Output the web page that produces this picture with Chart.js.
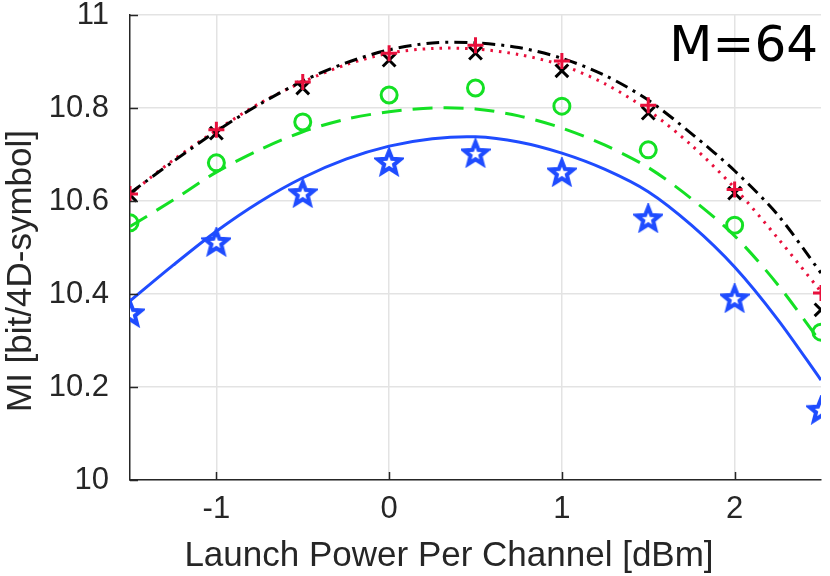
<!DOCTYPE html>
<html>
<head>
<meta charset="utf-8">
<script src="https://cdn.jsdelivr.net/npm/chart.js@4/dist/chart.umd.min.js"></script>
<style>
  body { margin: 0; background: #fff; }
  #wrap { width: 830px; height: 576px; }
</style>
</head>
<body>
<div id="wrap"><canvas id="chart" width="830" height="576"></canvas></div>
<script>
// measured points
const powerDbm = [-1.5, -1, -0.5, 0, 0.5, 1, 1.5, 2, 2.5];
const plusMI   = [10.615, 10.753, 10.856, 10.918, 10.935, 10.901, 10.806, 10.625, 10.402];
const crossMI  = [10.613, 10.746, 10.843, 10.903, 10.918, 10.880, 10.789, 10.617, 10.366];
const circleMI = [10.553, 10.682, 10.770, 10.828, 10.843, 10.804, 10.710, 10.548, 10.318];
const starMI   = [10.359, 10.512, 10.617, 10.684, 10.703, 10.662, 10.563, 10.391, 10.151];

// fitted curves
const fitPower  = [-1.5, -1.25, -1, -0.75, -0.5, -0.25, 0, 0.25, 0.5, 0.75, 1, 1.25, 1.5, 1.75, 2, 2.25, 2.5];
const fitPlus   = [10.615, 10.688, 10.752, 10.810, 10.856, 10.893, 10.918, 10.928, 10.927, 10.915, 10.892, 10.852, 10.795, 10.720, 10.628, 10.520, 10.405];
const fitCross  = [10.617, 10.685, 10.750, 10.808, 10.858, 10.897, 10.925, 10.940, 10.940, 10.930, 10.907, 10.870, 10.817, 10.745, 10.665, 10.570, 10.445];
const fitCircle = [10.545, 10.602, 10.662, 10.710, 10.749, 10.776, 10.792, 10.800, 10.798, 10.783, 10.757, 10.720, 10.672, 10.605, 10.525, 10.420, 10.295];
const fitStar   = [10.385, 10.462, 10.535, 10.598, 10.650, 10.690, 10.718, 10.734, 10.738, 10.727, 10.703, 10.668, 10.620, 10.548, 10.458, 10.345, 10.215];

const xTicks = [-1, 0, 1, 2];
const yTicks = [10, 10.2, 10.4, 10.6, 10.8, 11];
const xTitle = 'Launch Power Per Channel [dBm]';
const yTitle = 'MI [bit/4D-symbol]';
const annotationText = 'M=64';

const RED = '#e8103c', BLACK = '#000000', GREEN = '#14e024', BLUE = '#1f4cff';
const TEXT = '#262626';
const FONT = '"Liberation Sans", Arial, sans-serif';

function pts(xs, ys) {
  return xs.map((x, i) => ({ x: x, y: ys[i] }));
}

// 5-point star marker, thick outline with a small white centre
function makeStar(color) {
  const c = document.createElement('canvas');
  c.width = 30; c.height = 30;
  const g = c.getContext('2d');
  g.beginPath();
  for (let i = 0; i < 10; i++) {
    const r = i % 2 === 0 ? 12 : 5.2;
    const a = -Math.PI / 2 + i * Math.PI / 5;
    const px = 15 + r * Math.cos(a), py = 16 + r * Math.sin(a);
    if (i === 0) g.moveTo(px, py); else g.lineTo(px, py);
  }
  g.closePath();
  g.fillStyle = '#ffffff';
  g.fill();
  g.lineWidth = 4;
  g.lineJoin = 'miter';
  g.strokeStyle = color;
  g.stroke();
  return c;
}
const starImg = makeStar(BLUE);

function curve(ys, color, dash) {
  return {
    data: pts(fitPower, ys),
    showLine: true,
    borderColor: color,
    borderWidth: 3,
    borderDash: dash,
    pointRadius: 0,
    tension: 0.3,
    fill: false,
    order: 2
  };
}
function marks(ys, color, style, radius) {
  return {
    data: pts(powerDbm, ys),
    showLine: false,
    pointStyle: style,
    pointRadius: radius,
    pointBorderWidth: 3,
    pointBorderColor: color,
    pointBackgroundColor: 'rgba(0,0,0,0)',
    borderColor: color,
    order: 1
  };
}

// inward ticks, axis titles and the M=64 label
const extras = {
  id: 'extras',
  afterDraw(chart) {
    const ctx = chart.ctx, a = chart.chartArea;
    const xs = chart.scales.x, ys = chart.scales.y;
    ctx.save();
    ctx.strokeStyle = TEXT;
    ctx.lineWidth = 1.5;
    ctx.beginPath();
    xTicks.forEach(v => {
      const px = Math.round(xs.getPixelForValue(v)) + 0.5;
      ctx.moveTo(px, a.bottom); ctx.lineTo(px, a.bottom - 8);
    });
    yTicks.forEach(v => {
      const py = Math.round(ys.getPixelForValue(v)) + 0.5;
      ctx.moveTo(a.left, py); ctx.lineTo(a.left + 8, py);
    });
    ctx.stroke();

    ctx.fillStyle = TEXT;
    ctx.font = '35px ' + FONT;
    ctx.textAlign = 'center';
    ctx.textBaseline = 'middle';
    ctx.fillText(xTitle, 449, 556);
    ctx.save();
    ctx.translate(21, 271);
    ctx.rotate(-Math.PI / 2);
    ctx.fillText(yTitle, 0, 0);
    ctx.restore();

    ctx.fillStyle = '#000';
    ctx.font = '50px "DejaVu Sans"';
    ctx.textAlign = 'right';
    ctx.textBaseline = 'alphabetic';
    ctx.fillText(annotationText, 818, 61);
    ctx.restore();
  }
};

const config = {
  type: 'scatter',
  data: {
    datasets: [
      marks(plusMI, RED, 'cross', 8),
      marks(crossMI, BLACK, 'crossRot', 9),
      marks(circleMI, GREEN, 'circle', 8),
      marks(starMI, BLUE, starImg, 12),
      curve(fitCross, BLACK, [13, 6, 3, 6]),
      curve(fitPlus, RED, [2.5, 6]),
      curve(fitCircle, GREEN, [20, 11]),
      curve(fitStar, BLUE, [])
    ]
  },
  options: {
    responsive: false,
    animation: false,
    layout: { autoPadding: false, padding: { top: 15, right: 9, left: 0, bottom: 0 } },
    plugins: { legend: { display: false }, tooltip: { enabled: false } },
    scales: {
      x: {
        type: 'linear',
        min: -1.5,
        max: 2.5,
        afterBuildTicks: s => { s.ticks = xTicks.map(v => ({ value: v })); },
        afterFit: s => { s.height = 96; s.paddingLeft = 0; s.paddingRight = 0; },
        grid: { color: '#e3e3e3', lineWidth: 1.5, drawTicks: false },
        border: { display: true, color: TEXT, width: 1.5 },
        ticks: {
          padding: 14,
          color: TEXT,
          callback: v => String(v),
          font: { family: FONT, size: 31, lineHeight: 1 }
        }
      },
      y: {
        min: 10,
        max: 11,
        afterBuildTicks: s => { s.ticks = yTicks.map(v => ({ value: v })); },
        afterFit: s => { s.width = 130; s.paddingTop = 0; s.paddingBottom = 0; },
        grid: { color: '#e3e3e3', lineWidth: 1.5, drawTicks: false },
        border: { display: true, color: TEXT, width: 1.5 },
        ticks: {
          padding: 21,
          color: TEXT,
          callback: v => String(+v.toFixed(1)),
          font: { family: FONT, size: 31, lineHeight: 1 }
        }
      }
    }
  },
  plugins: [extras]
};

const canvas = document.getElementById('chart');
const myChart = new Chart(canvas, config);
</script>
</body>
</html>
